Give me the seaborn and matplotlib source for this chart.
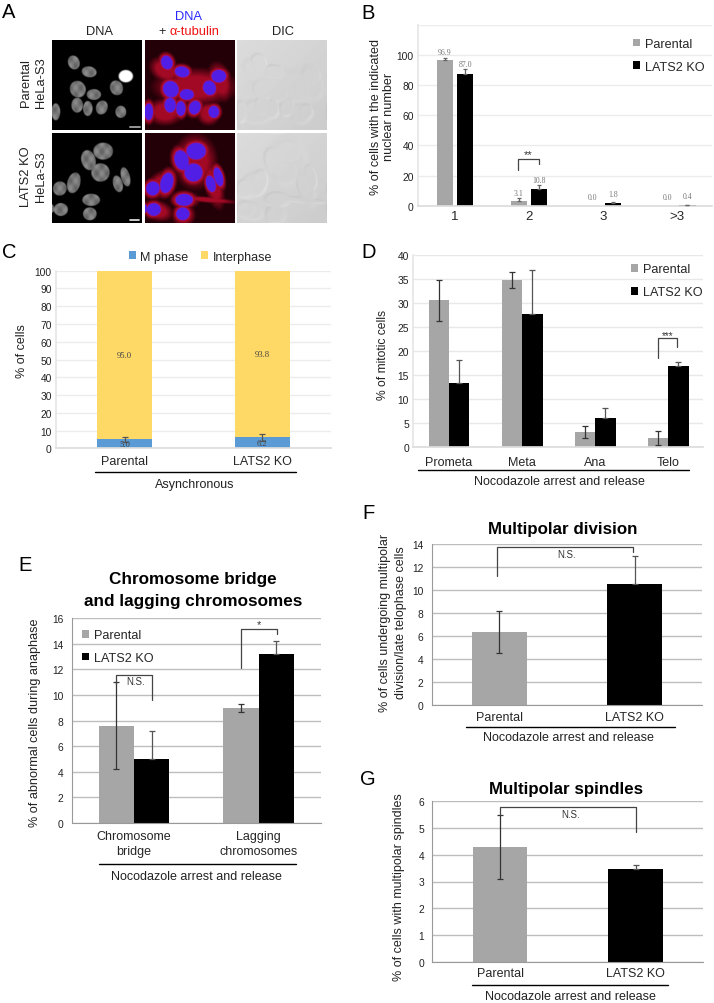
import numpy as np
import pandas as pd
import matplotlib
matplotlib.use('Agg')
import matplotlib.pyplot as plt
import seaborn as sns

W, H = 714, 1004
GREY = '#a6a6a6'
BLACK = '#000000'
SANS = 'Liberation Sans'
SERIF = 'Liberation Serif'

genotypes = ['Parental', 'LATS2 KO']

# panel B
b_cats = ['1', '2', '3', '>3']
b_parental = [96.9, 3.1, 0.0, 0.0]
b_ko = [87.0, 10.8, 1.8, 0.4]
b_err_parental = [1.3, 1.7, 0.0, 0.0]
b_err_ko = [3.5, 2.6, 0.4, 0.3]
b_labels_parental = ['96.9', '3.1', '0.0', '0.0']
b_labels_ko = ['87.0', '10.8', '1.8', '0.4']

# panel C
c_cats = ['Parental', 'LATS2 KO']
c_mphase = [5.0, 6.2]
c_interphase = [95.0, 93.8]
c_err = [1.2, 2.1]

# panel D
d_cats = ['Prometa', 'Meta', 'Ana', 'Telo']
d_parental = [30.5, 34.7, 3.2, 2.0]
d_ko = [13.4, 27.6, 6.1, 16.8]
d_err_parental = [4.3, 1.7, 1.2, 1.45]
d_err_ko = [4.7, 9.2, 2.1, 0.9]

# panel E
e_cats = ['Chromosome\nbridge', 'Lagging\nchromosomes']
e_parental = [7.6, 9.0]
e_ko = [5.0, 13.2]
e_err_parental = [3.4, 0.3]
e_err_ko = [2.2, 1.0]

# panel F
f_values = [6.35, 10.55]
f_err = [1.83, 2.45]

# panel G
g_values = [4.3, 3.45]
g_err = [1.2, 0.15]

# nuclei in the micrographs: x, y, width, height, angle (270 px panel)
nuclei_top = [(65, 67, 34, 42, -20), (111, 95, 44, 32, 10), (221, 108, 44, 38, 0),
              (193, 143, 38, 44, -20), (77, 147, 46, 50, -30), (125, 163, 42, 32, 0),
              (75, 195, 34, 44, 0), (107, 205, 28, 44, 0), (149, 202, 34, 42, 20),
              (206, 215, 32, 36, 0), (11, 215, 26, 50, 0)]
nuclei_bottom = [(153, 54, 58, 50, 0), (109, 81, 42, 60, -15), (145, 118, 54, 54, 0),
                 (65, 149, 38, 62, 15), (23, 166, 40, 42, 20), (197, 152, 28, 50, -15),
                 (220, 131, 26, 58, -15), (117, 200, 52, 36, 0), (26, 229, 42, 38, 0),
                 (113, 242, 40, 38, 0), (1, 226, 8, 24, 0)]
cells_top = [(150, 140, 250, 110, 0), (225, 125, 70, 120, -15), (60, 90, 100, 70, 30),
             (190, 220, 70, 70, 0), (60, 215, 110, 80, 0)]
cells_bottom = [(150, 85, 130, 165, 0), (205, 155, 55, 150, -15), (45, 155, 110, 70, -40),
                (190, 200, 170, 18, 5), (120, 200, 90, 50, 0), (35, 232, 100, 60, 15),
                (115, 245, 70, 70, 0)]


def soft_mask(ells, soft=0.2, scale=1.0, size=270):
    yy, xx = np.mgrid[0:size, 0:size]
    m = np.zeros((size, size))
    for x, y, w, h, ang in ells:
        t = np.radians(ang)
        dx, dy = xx - x, yy - y
        u = dx * np.cos(t) + dy * np.sin(t)
        v = -dx * np.sin(t) + dy * np.cos(t)
        r = np.sqrt((u / (w * scale / 2)) ** 2 + (v / (h * scale / 2)) ** 2)
        m = np.maximum(m, np.clip((1 - r) / soft, 0, 1))
    return m


def px_axes(fig, left, top, right, bottom):
    return fig.add_axes([left / W, 1 - bottom / H, (right - left) / W, (bottom - top) / H])


def show_panel(fig, img, left, top, cmap=None):
    a = px_axes(fig, left, top, left + 90, top + 90)
    a.imshow(img, cmap=cmap, vmin=0, vmax=1, aspect='auto', interpolation='bilinear')
    a.axis('off')


def micrographs(fig, nuclei, cells, top, bright):
    yy, xx = np.mgrid[0:270, 0:270]
    texture = 0.85 + 0.15 * np.sin(xx / 5.0) * np.sin(yy / 7.0)
    nuc = soft_mask(nuclei, soft=0.12, scale=1.08)
    dna = 0.55 * nuc * texture
    if bright is not None:
        dna = np.maximum(dna, soft_mask([bright], soft=0.2, scale=1.08))
    show_panel(fig, dna, 52, top, cmap='gray')

    body = np.maximum(0.62 * soft_mask(cells, soft=0.5, scale=1.1), soft_mask(nuclei, soft=0.5, scale=1.7))
    img = np.zeros((270, 270, 3))
    img[..., 0] = 0.14 + 0.8 * body
    img[..., 1] = 0.06 * body
    img[..., 2] = 0.03 + 0.18 * body
    nuc_col = np.array([0.32, 0.12, 0.9])
    img = img * (1 - nuc[..., None]) + nuc_col * nuc[..., None]
    show_panel(fig, img, 145, top)

    edges = np.maximum(0.6 * soft_mask(cells, soft=0.25), 0.8 * soft_mask(nuclei, soft=0.15, scale=1.4))
    emboss = np.roll(edges, (3, 3), axis=(0, 1)) - np.roll(edges, (-3, -3), axis=(0, 1))
    dic = 0.86 - 0.06 * (xx + yy) / 540 + 0.045 * emboss
    show_panel(fig, np.clip(dic, 0, 1), 237, top, cmap='gray')


def style_axes(ax, ymax, step, grid, top_label=True):
    ticks = np.arange(0, ymax + step / 2, step)
    labels = [str(int(t)) for t in ticks]
    if not top_label:
        labels[-1] = ''
    ax.set_ylim(0, ymax)
    ax.set_yticks(ticks, labels=labels)
    ax.yaxis.grid(True, color=grid, lw=1.0)
    ax.xaxis.grid(False)
    ax.set_axisbelow(True)
    ax.set_xlabel('')
    ax.set_ylabel('')
    for s in ['top', 'right']:
        ax.spines[s].set_visible(False)
    ax.tick_params(axis='y', labelsize=7.4, colors='#222222')


def light_axes(ax):
    ax.spines['left'].set_color('#e6e6e6')
    ax.spines['bottom'].set_color('#dddddd')
    ax.tick_params(axis='both', length=0)
    ax.tick_params(axis='y', pad=3)


def ticked_axes(ax, cats, xmax):
    # tick marks sit between the categories, labels at the categories
    for s in ['left', 'bottom']:
        ax.spines[s].set_color('#999999')
        ax.spines[s].set_linewidth(0.8)
    ax.set_xticks(np.arange(-0.5, xmax + 0.1, 1.0), labels=[''] * len(np.arange(-0.5, xmax + 0.1, 1.0)))
    ax.set_xticks(range(len(cats)), labels=cats, minor=True)
    ax.tick_params(axis='x', which='major', length=3, color='#999999', width=0.8)
    ax.tick_params(axis='x', which='minor', length=0, labelsize=9, pad=4)
    ax.tick_params(axis='y', length=3, color='#999999', width=0.8, pad=3)


def bar_err(ax, container, values, low, high, color='#333333', capsize=2):
    xs = [p.get_x() + p.get_width() / 2 for p in container]
    for x, v, lo, hi in zip(xs, values, low, high):
        if lo > 0 or hi > 0:
            ax.errorbar(x, v, yerr=[[lo], [hi]], fmt='none', ecolor=color, elinewidth=0.9,
                        capsize=capsize, capthick=0.9, zorder=5)


def grouped(ax, cats, parental, ko, width, gap=0.0):
    df = pd.DataFrame({'cat': list(cats) * 2,
                       'genotype': np.repeat(genotypes, len(cats)),
                       'value': list(parental) + list(ko)})
    sns.barplot(data=df, x='cat', y='value', hue='genotype', palette=[GREY, BLACK],
                errorbar=None, width=width, gap=gap, ax=ax, saturation=1, linewidth=0)


def single(ax, values, width=0.402):
    df = pd.DataFrame({'genotype': genotypes, 'value': values})
    sns.barplot(data=df, x='genotype', y='value', hue='genotype', palette=[GREY, BLACK],
                errorbar=None, width=width, dodge=False, legend=False, ax=ax, saturation=1, linewidth=0)


def legend_at(ax, ov, x, y, fs=9.1, spacing=0.85):
    sns.move_legend(ax, 'upper left', bbox_to_anchor=(x, y), bbox_transform=ov.transData,
                    title=None, frameon=False, fontsize=fs, borderpad=0, borderaxespad=0,
                    handlelength=0.58, handleheight=0.58, handletextpad=0.4, labelspacing=spacing)


def bracket(ax, x0, x1, y0, ytop, y1, label, ly, fs=7, color='#444444'):
    ax.plot([x0, x0, x1, x1], [y0, ytop, ytop, y1], color=color, lw=0.9, zorder=6, clip_on=False)
    ax.text((x0 + x1) / 2, ly, label, ha='center', va='center', fontsize=fs, color='#333333', zorder=6)


def main():
    sns.set_theme(style='white')
    plt.rcParams['font.family'] = [SANS, 'DejaVu Sans']
    fig = plt.figure(figsize=(W / 100, H / 100), dpi=100)
    ov = fig.add_axes([0, 0, 1, 1], zorder=20)
    ov.set_xlim(0, W)
    ov.set_ylim(H, 0)
    ov.axis('off')
    ov.patch.set_alpha(0)

    def txt(x, y, s, fs=9, color='#222222', **kw):
        kw.setdefault('ha', 'center')
        kw.setdefault('va', 'center')
        ov.text(x, y, s, fontsize=fs, color=color, **kw)

    def rule(x0, x1, y):
        ov.plot([x0, x1], [y, y], color='black', lw=1.0)

    for s, x, y in [('A', 2, 18), ('B', 361, 19), ('C', 2, 258), ('D', 361, 258),
                    ('E', 18, 571), ('F', 362, 519), ('G', 360, 785)]:
        txt(x, y, s, fs=14.5, color='black', ha='left', va='baseline')

    # A
    micrographs(fig, nuclei_top, cells_top, 41, nuclei_top[2])
    micrographs(fig, nuclei_bottom, cells_bottom, 134, None)
    txt(99.3, 32, 'DNA', 9.3)
    txt(189, 16.7, 'DNA', 9.3, color='#2a2aff')
    txt(162, 32, '+', 9.3)
    txt(194, 32, '\u03b1-tubulin', 9.3, color='#ee1111')
    txt(282.7, 32, 'DIC', 9.3)
    txt(26, 83, 'Parental', 9.3, rotation=90)
    txt(41, 83, 'HeLa-S3', 9.3, rotation=90)
    txt(26, 177, 'LATS2 KO', 9.3, rotation=90)
    txt(41, 177, 'HeLa-S3', 9.3, rotation=90)
    ov.plot([130, 140], [127.7, 127.7], color='#999999', lw=1.4)
    ov.plot([129.5, 138.5], [221, 221], color='#eeeeee', lw=1.2)

    # B
    ax = px_axes(fig, 418, 25.7, 712, 206.7)
    grouped(ax, b_cats, b_parental, b_ko, 0.55, gap=0.2)
    style_axes(ax, 120, 20, '#ececec', top_label=False)
    light_axes(ax)
    ax.set_xlim(-0.5, 3.47)
    ax.tick_params(axis='x', labelsize=9.5, pad=3)
    bar_err(ax, ax.containers[0], b_parental, [0] * 4, b_err_parental, color='#666666', capsize=1.5)
    bar_err(ax, ax.containers[1], b_ko, [0] * 4, b_err_ko, color='#666666', capsize=1.5)
    for cont, vals, errs, labels in [(ax.containers[0], b_parental, b_err_parental, b_labels_parental),
                                     (ax.containers[1], b_ko, b_err_ko, b_labels_ko)]:
        for p, v, e, lab in zip(cont, vals, errs, labels):
            off = 3.5 if v > 2 else 5.5
            ax.text(p.get_x() + p.get_width() / 2, v + e + off, lab, ha='center', va='center',
                    fontsize=5.6, color='#777777', family=SERIF)
    bracket(ax, 0.851, 1.135, 23.7, 31.2, 27.5, '**', 34.5, fs=8)
    legend_at(ax, ov, 632.7, 39)
    txt(376, 117, '% of cells with the indicated', 9.1, rotation=90)
    txt(389, 117, 'nuclear number', 9.1, rotation=90)

    # C
    ax = px_axes(fig, 56, 271.7, 331, 449.3)
    total = [m + i for m, i in zip(c_mphase, c_interphase)]
    df = pd.DataFrame({'cat': c_cats, 'total': total, 'mphase': c_mphase})
    sns.barplot(data=df, x='cat', y='total', color='#ffd966', width=0.4, errorbar=None,
                label='Interphase', ax=ax, saturation=1, linewidth=0)
    sns.barplot(data=df, x='cat', y='mphase', color='#5b9bd5', width=0.4, errorbar=None,
                label='M phase', ax=ax, saturation=1, linewidth=0)
    style_axes(ax, 100, 10, '#ececec')
    light_axes(ax)
    ax.set_xlim(-0.5, 1.5)
    ax.tick_params(axis='x', labelsize=9, pad=5)
    bar_err(ax, ax.containers[1], c_mphase, c_err, c_err, color='#555555')
    for i in range(2):
        ax.text(i, c_mphase[i] / 2, f'{c_mphase[i]:.1f}', ha='center', va='center', fontsize=6.2,
                color='#444444', family=SERIF, zorder=6)
        ax.text(i, c_mphase[i] + c_interphase[i] / 2, f'{c_interphase[i]:.1f}', ha='center', va='center',
                fontsize=6.2, color='#444444', family=SERIF)
    ax.legend(handles=[ax.containers[1], ax.containers[0]], labels=['M phase', 'Interphase'], ncol=2,
              loc='upper left', bbox_to_anchor=(128.7, 251.5), bbox_transform=ov.transData, frameon=False,
              fontsize=9, borderpad=0, borderaxespad=0, handlelength=0.58, handleheight=0.58,
              handletextpad=0.35, columnspacing=1.0)
    txt(22, 351, '% of cells', 9, rotation=90)
    rule(95, 295.7, 473)
    txt(195, 485, 'Asynchronous', 9)

    # D
    ax = px_axes(fig, 413.3, 255.7, 703, 448.3)
    grouped(ax, d_cats, d_parental, d_ko, 0.557)
    style_axes(ax, 40, 5, '#e8e8e8')
    light_axes(ax)
    ax.set_xlim(-0.49, 3.475)
    ax.tick_params(axis='x', labelsize=9, pad=6)
    bar_err(ax, ax.containers[0], d_parental, d_err_parental, d_err_parental)
    bar_err(ax, ax.containers[1], d_ko, [0] * 4, d_err_ko, color='#555555')
    bracket(ax, 2.855, 3.125, 18.5, 22.6, 20.9, '***', 23.4, fs=7)
    legend_at(ax, ov, 631, 264.5)
    txt(383, 354.5, '% of mitotic cells', 8.7, rotation=90)
    rule(418, 689.3, 471.3)
    txt(559, 482.3, 'Nocodazole arrest and release', 9)

    # E
    ax = px_axes(fig, 71.7, 619.3, 321, 824)
    grouped(ax, e_cats, e_parental, e_ko, 0.568)
    style_axes(ax, 16, 2, '#bdbdbd')
    ticked_axes(ax, e_cats, 1.5)
    ax.set_xlim(-0.5, 1.5)
    ax.tick_params(axis='x', which='minor', pad=5)
    for t in ax.get_xticklabels(minor=True):
        t.set_linespacing(1.3)
    bar_err(ax, ax.containers[0], e_parental, e_err_parental, e_err_parental)
    bar_err(ax, ax.containers[1], e_ko, [0, 0], e_err_ko, color='#555555')
    bracket(ax, -0.147, 0.145, 10.9, 11.6, 9.6, '', 11.1)
    ax.text(0.012, 11.1, 'N.S.', ha='center', va='center', fontsize=7, color='#333333')
    bracket(ax, 0.855, 1.145, 12.15, 15.2, 14.77, '*', 15.55, fs=8)
    legend_at(ax, ov, 81.7, 630.2)
    txt(192.7, 580, 'Chromosome bridge', 12.35, color='black', fontweight='bold')
    txt(192.7, 602, 'and lagging chromosomes', 12.35, color='black', fontweight='bold')
    txt(35, 722.7, '% of abnormal cells during anaphase', 9.1, rotation=90)
    rule(99, 296, 865)
    txt(196.7, 877, 'Nocodazole arrest and release', 9)

    # F
    ax = px_axes(fig, 431.7, 545, 702.3, 706)
    single(ax, f_values)
    style_axes(ax, 14, 2, '#bdbdbd')
    ticked_axes(ax, genotypes, 1.5)
    ax.set_xlim(-0.5, 1.5)
    bar_err(ax, ax.containers[0], f_values[:1], f_err[:1], f_err[:1])
    bar_err(ax, ax.containers[1], f_values[1:], [0], f_err[1:], color='#555555')
    bracket(ax, -0.015, 0.99, 11.25, 13.7, 13.27, '', 13.1)
    ax.text(0.5, 13.13, 'N.S.', ha='center', va='center', fontsize=7, color='#333333')
    txt(562.7, 529.3, 'Multipolar division', 12.2, color='black', fontweight='bold')
    txt(385, 622.5, '% of cells undergoing multipolar', 9, rotation=90)
    txt(400.7, 622.5, 'division/late telophase cells', 9, rotation=90)
    rule(465.7, 675.3, 727.7)
    txt(568, 738, 'Nocodazole arrest and release', 9)

    # G
    ax = px_axes(fig, 432.3, 802.3, 703.3, 962.7)
    single(ax, g_values)
    style_axes(ax, 6, 1, '#bdbdbd')
    ticked_axes(ax, genotypes, 1.5)
    ax.set_xlim(-0.5, 1.5)
    bar_err(ax, ax.containers[0], g_values[:1], g_err[:1], g_err[:1])
    bar_err(ax, ax.containers[1], g_values[1:], [0], g_err[1:], color='#555555')
    bracket(ax, 0.0, 1.0, 5.5, 5.77, 4.84, '', 5.5)
    ax.text(0.52, 5.52, 'N.S.', ha='center', va='center', fontsize=7, color='#333333')
    txt(566, 789.3, 'Multipolar spindles', 12.2, color='black', fontweight='bold')
    txt(399, 886.7, '% of cells with multipolar spindles', 9, rotation=90)
    rule(472.3, 668.3, 985.7)
    txt(570, 996.7, 'Nocodazole arrest and release', 9)

    fig.savefig('out.png', dpi=100)


main()
